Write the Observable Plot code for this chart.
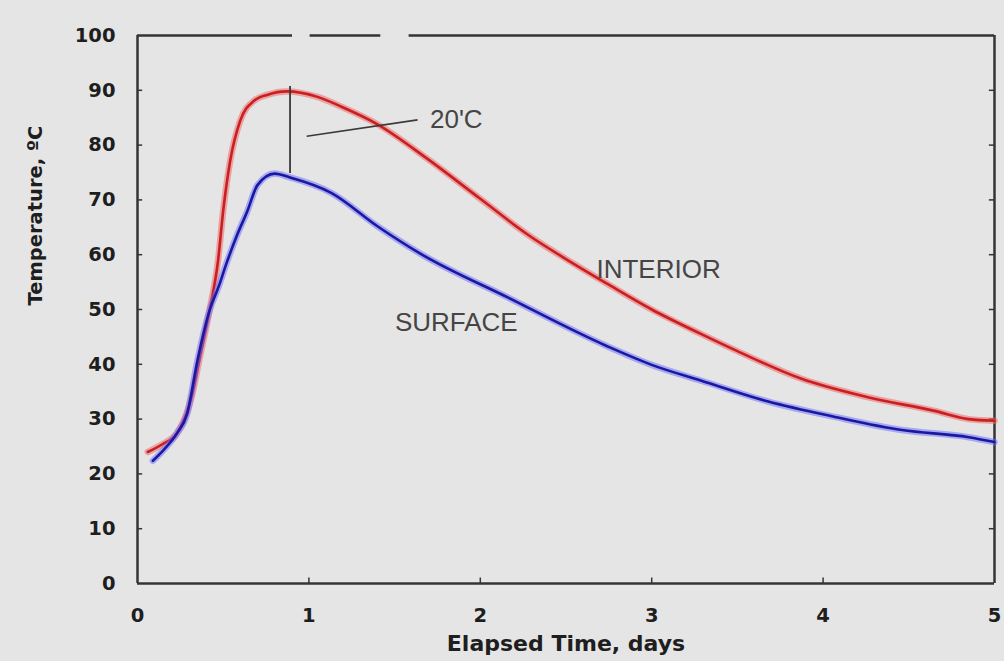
<!DOCTYPE html>
<html>
<head>
<meta charset="utf-8">
<script src="https://cdn.jsdelivr.net/npm/d3@7"></script>
<script src="https://cdn.jsdelivr.net/npm/@observablehq/plot@0.6"></script>
<style>
  html, body { margin: 0; padding: 0; background: #e5e5e5; }
  #chart { width: 1004px; height: 661px; }
</style>
</head>
<body>
<div id="chart"></div>
<script>
// Concrete temperature after placement: interior vs. surface (°C over days)
const interiorDays = [0.06, 0.15, 0.23, 0.32, 0.36, 0.42, 0.47, 0.50, 0.54, 0.60, 0.68, 0.76, 0.87, 1.05, 1.19, 1.40, 1.70, 2.00, 2.28, 2.50, 2.74, 3.00, 3.29, 3.50, 3.87, 4.26, 4.65, 4.85, 5.00];
const interiorTemp = [24.0, 25.5, 27.4, 34.6, 40.7, 49.8, 58.9, 68.0, 77.0, 84.5, 88.1, 89.2, 89.8, 88.8, 87.0, 83.8, 77.3, 70.2, 63.6, 59.2, 54.7, 50.0, 45.5, 42.4, 37.4, 34.0, 31.5, 30.0, 29.7];

const surfaceDays = [0.09, 0.15, 0.23, 0.29, 0.35, 0.42, 0.475, 0.52, 0.58, 0.64, 0.70, 0.80, 0.89, 1.13, 1.40, 1.65, 2.16, 2.74, 3.00, 3.29, 3.68, 4.07, 4.46, 4.85, 5.00];
const surfaceTemp = [22.4, 24.3, 27.4, 31.0, 40.7, 49.8, 54.3, 58.5, 63.5, 67.9, 72.7, 74.8, 74.1, 71.3, 65.2, 60.2, 52.2, 43.3, 39.9, 37.0, 33.2, 30.4, 28.0, 26.7, 25.8];

const xTicks = [0, 1, 2, 3, 4, 5];
const yTicks = [0, 10, 20, 30, 40, 50, 60, 70, 80, 90, 100];

// Peak-difference marker and its callout
const spanDay = 0.89, spanLow = 74.8, spanHigh = 90.7;
const leaderFrom = [0.987, 81.6], leaderTo = [1.634, 84.6];
const seriesLabels = [
  {text: "INTERIOR", day: 3.04, temp: 57.3},
  {text: "SURFACE", day: 1.86, temp: 47.6},
  {text: "20'C", day: 1.86, temp: 84.7}
];

const interior = interiorDays.map((d, i) => ({day: d, temp: interiorTemp[i]}));
const surface = surfaceDays.map((d, i) => ({day: d, temp: surfaceTemp[i]}));

const frameColor = "#343434";
const labelFont = "Liberation Sans, Arial, sans-serif";

const chart = Plot.plot({
  width: 1004,
  height: 661,
  marginLeft: 137,
  marginRight: 10,
  marginTop: 35,
  marginBottom: 78,
  style: {
    background: "#e5e5e5",
    fontFamily: "DejaVu Sans, sans-serif",
    fontWeight: "bold",
    fontSize: "19.5px",
    color: "#1e1e1e"
  },
  x: {domain: [0, 5], ticks: xTicks, tickSize: 0, tickPadding: 25, tickFormat: d3.format("d"), label: null},
  y: {domain: [0, 100], ticks: yTicks, tickSize: 0, tickPadding: 22, tickFormat: d3.format("d"), label: null},
  marks: [
    // plot border: solid left/right/bottom, broken top edge
    Plot.ruleX([0, 5], {y1: 0, y2: 100, stroke: frameColor, strokeWidth: 2.5}),
    Plot.ruleY([0], {x1: 0, x2: 5, stroke: frameColor, strokeWidth: 2.5}),
    Plot.ruleY([100], {x1: 0, x2: 5, stroke: frameColor, strokeWidth: 2.5, strokeDasharray: "155,17.6,70.7,28.3,700"}),
    // inward ticks
    Plot.ruleY(yTicks.slice(1, -1), {x1: 0, x2: 0.03, stroke: frameColor, strokeWidth: 1.5}),
    Plot.ruleY(yTicks.slice(1, -1), {x1: 4.97, x2: 5, stroke: frameColor, strokeWidth: 1.5}),
    Plot.ruleX(xTicks.slice(1, -1), {y1: 0, y2: 1, stroke: frameColor, strokeWidth: 1.5}),
    // curves: soft halo under a solid core
    Plot.line(interior, {x: "day", y: "temp", curve: "monotone-x", stroke: "#f26a6a", strokeOpacity: 0.55, strokeWidth: 6.5}),
    Plot.line(interior, {x: "day", y: "temp", curve: "monotone-x", stroke: "#c81f22", strokeWidth: 2.6}),
    Plot.line(surface, {x: "day", y: "temp", curve: "monotone-x", stroke: "#6a6aff", strokeOpacity: 0.5, strokeWidth: 6.5}),
    Plot.line(surface, {x: "day", y: "temp", curve: "monotone-x", stroke: "#1818a0", strokeWidth: 2.6}),
    // peak-difference marker
    Plot.ruleX([spanDay], {y1: spanLow, y2: spanHigh, stroke: "#3a3a3a", strokeWidth: 1.8}),
    Plot.link([0], {x1: () => leaderFrom[0], y1: () => leaderFrom[1], x2: () => leaderTo[0], y2: () => leaderTo[1], stroke: "#3a3a3a", strokeWidth: 1.6}),
    // in-plot labels
    Plot.text(seriesLabels, {x: "day", y: "temp", text: "text", fontFamily: labelFont, fontWeight: "normal", fontSize: 26, fill: "#454545"}),
    // axis titles
    Plot.text(["Elapsed Time, days"], {frameAnchor: "bottom", dy: 60, lineAnchor: "middle", fontSize: 22, fill: "#1e1e1e"}),
    Plot.text(["Temperature, ºC"], {frameAnchor: "left", dx: -102, dy: -4, rotate: -90, lineAnchor: "middle", fontSize: 19.5, fill: "#1e1e1e"})
  ]
});

document.getElementById("chart").appendChild(chart);
</script>
</body>
</html>
